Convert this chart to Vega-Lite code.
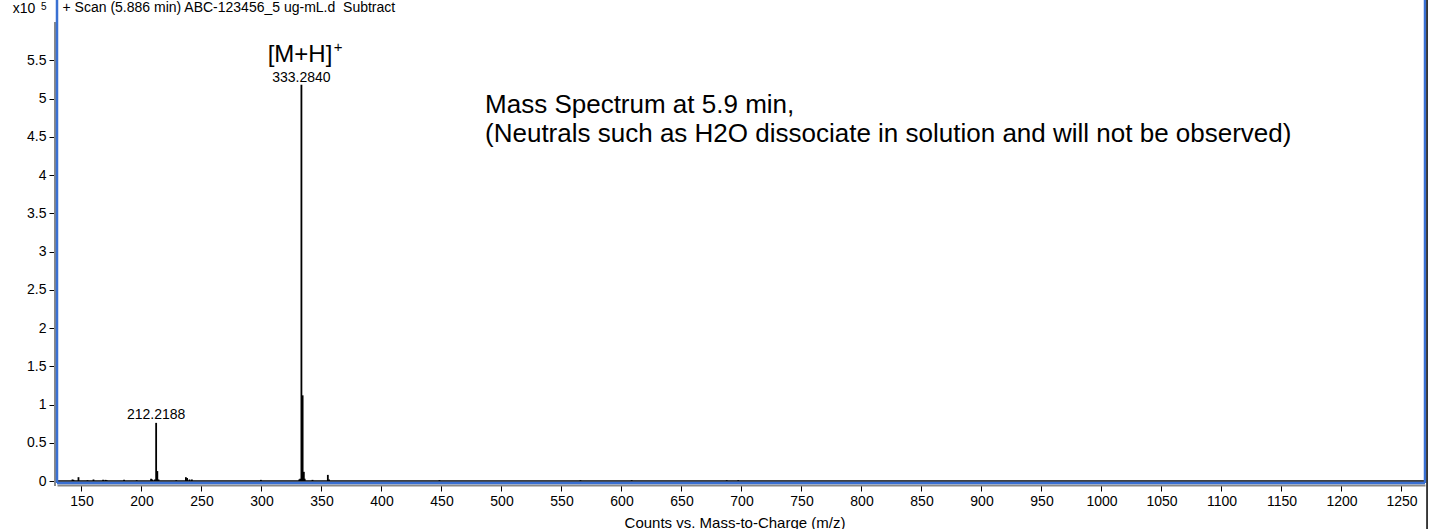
{
  "$schema": "https://vega.github.io/schema/vega-lite/v6.json",
  "width": 1368,
  "height": 483,
  "autosize": {"type": "none"},
  "padding": {"left": 57, "top": 0, "right": 9, "bottom": 46},
  "background": "white",
  "config": {"view": {"stroke": null}, "font": "Liberation Sans"},
  "datasets": {
    "peaks": [
      {"mz": 142.5, "intensity": 0.02},
      {"mz": 143.3, "intensity": 0.015},
      {"mz": 147.5, "intensity": 0.05},
      {"mz": 155.0, "intensity": 0.01},
      {"mz": 160.0, "intensity": 0.02},
      {"mz": 168.0, "intensity": 0.015},
      {"mz": 170.0, "intensity": 0.015},
      {"mz": 171.0, "intensity": 0.01},
      {"mz": 185.5, "intensity": 0.015},
      {"mz": 196.0, "intensity": 0.01},
      {"mz": 208.0, "intensity": 0.03},
      {"mz": 209.0, "intensity": 0.02},
      {"mz": 211.2, "intensity": 0.02},
      {"mz": 212.2188, "intensity": 0.76},
      {"mz": 213.2, "intensity": 0.13},
      {"mz": 214.2, "intensity": 0.02},
      {"mz": 229.0, "intensity": 0.01},
      {"mz": 237.0, "intensity": 0.05},
      {"mz": 238.0, "intensity": 0.04},
      {"mz": 240.0, "intensity": 0.02},
      {"mz": 242.0, "intensity": 0.02},
      {"mz": 299.5, "intensity": 0.015},
      {"mz": 331.5, "intensity": 0.02},
      {"mz": 332.3, "intensity": 0.03},
      {"mz": 333.284, "intensity": 5.18},
      {"mz": 334.29, "intensity": 1.12},
      {"mz": 335.3, "intensity": 0.12},
      {"mz": 336.0, "intensity": 0.03},
      {"mz": 342.5, "intensity": 0.015},
      {"mz": 355.3, "intensity": 0.08},
      {"mz": 356.3, "intensity": 0.02},
      {"mz": 448.3, "intensity": 0.01},
      {"mz": 565.8, "intensity": 0.01},
      {"mz": 608.5, "intensity": 0.01},
      {"mz": 687.7, "intensity": 0.01},
      {"mz": 697.3, "intensity": 0.01}
    ]
  },
  "layer": [
    {
      "data": {"name": "peaks"},
      "mark": {"type": "rule", "color": "black", "strokeWidth": 1.8},
      "encoding": {
        "x": {
          "field": "mz", "type": "quantitative",
          "scale": {"domain": [129.6, 1269.6], "nice": false, "zero": false},
          "axis": {
            "orient": "bottom", "offset": 2,
            "values": [150,200,250,300,350,400,450,500,550,600,650,700,750,800,850,900,950,1000,1050,1100,1150,1200,1250],
            "format": "d", "grid": false,
            "domainColor": "#888888", "domainWidth": 2,
            "tickColor": "black", "tickSize": 6, "tickWidth": 1,
            "labelFont": "Liberation Sans", "labelFontSize": 14, "labelColor": "black", "labelPadding": 3,
            "title": "Counts vs. Mass-to-Charge (m/z)",
            "titleFont": "Liberation Sans", "titleFontSize": 15, "titleFontWeight": "normal", "titleColor": "black",
            "titleX": 677.5, "titleY": 42, "titleBaseline": "alphabetic", "titleAnchor": "middle"
          }
        },
        "y": {
          "field": "intensity", "type": "quantitative",
          "scale": {"domain": [-0.026, 6.288], "nice": false, "zero": false},
          "axis": {
            "orient": "left", "offset": 2,
            "values": [0,0.5,1,1.5,2,2.5,3,3.5,4,4.5,5,5.5],
            "format": "~g", "grid": false, "domain": false,
            "tickColor": "black", "tickSize": 6, "tickWidth": 1,
            "labelFont": "Liberation Sans", "labelFontSize": 14, "labelColor": "black", "labelPadding": 3,
            "title": null
          }
        },
        "y2": {"datum": 0}
      }
    },
    {
      "data": {"values": [{}]},
      "mark": {"type": "rule", "color": "#888888", "strokeWidth": 2},
      "encoding": {"x": {"datum": 127.93}, "y": {"datum": -0.065}, "y2": {"datum": 6.0}}
    },
    {
      "data": {"values": [{}]},
      "mark": {"type": "rule", "color": "black", "strokeWidth": 1.5},
      "encoding": {"x": {"datum": 129.6}, "x2": {"datum": 1269.6}, "y": {"datum": 0}}
    },
    {
      "data": {"values": [{}]},
      "mark": {"type": "rule", "color": "#3a70d2", "strokeWidth": 2.5},
      "encoding": {"x": {"datum": 129.6}, "y": {"datum": -0.026}, "y2": {"datum": 6.5}}
    },
    {
      "data": {"values": [{}]},
      "mark": {"type": "rule", "color": "#3a70d2", "strokeWidth": 2.5},
      "encoding": {"x": {"datum": 1269.6}, "y": {"datum": -0.026}, "y2": {"datum": 6.5}}
    },
    {
      "data": {"values": [{}]},
      "mark": {"type": "rule", "color": "#3a70d2", "strokeWidth": 2.5},
      "encoding": {"x": {"datum": 129.6}, "x2": {"datum": 1269.6}, "y": {"datum": -0.026}}
    },
    {
      "data": {"values": [{}]},
      "mark": {"type": "rule", "color": "black", "strokeWidth": 1.5},
      "encoding": {"x": {"datum": 1271.3}, "y": {"datum": -0.7}, "y2": {"datum": 6.5}}
    },
    {
      "data": {"values": [{"label": "333.2840", "mz": 333.284, "y": 5.216}, {"label": "212.2188", "mz": 212.2188, "y": 0.81}]},
      "mark": {"type": "text", "font": "Liberation Sans", "fontSize": 14, "align": "center", "baseline": "alphabetic", "color": "black"},
      "encoding": {"x": {"field": "mz", "type": "quantitative"}, "y": {"field": "y", "type": "quantitative"}, "text": {"field": "label"}}
    },
    {
      "data": {"values": [{}]},
      "mark": {"type": "text", "font": "Liberation Sans", "fontSize": 24, "align": "center", "baseline": "alphabetic", "color": "black"},
      "encoding": {"x": {"datum": 332.1}, "y": {"datum": 5.477}, "text": {"value": "[M+H]"}}
    },
    {
      "data": {"values": [{}]},
      "mark": {"type": "text", "font": "Liberation Sans", "fontSize": 15, "align": "center", "baseline": "alphabetic", "color": "black"},
      "encoding": {"x": {"datum": 363.8}, "y": {"datum": 5.61}, "text": {"value": "+"}}
    },
    {
      "data": {"values": [{"line": "Mass Spectrum at 5.9 min,", "y": 4.81}, {"line": "(Neutrals such as H2O dissociate in solution and will not be observed)", "y": 4.431}]},
      "mark": {"type": "text", "font": "Liberation Sans", "fontSize": 26, "align": "left", "baseline": "alphabetic", "color": "black"},
      "encoding": {"x": {"datum": 486.3}, "y": {"field": "y", "type": "quantitative"}, "text": {"field": "line"}}
    },
    {
      "data": {"values": [{}]},
      "mark": {"type": "text", "font": "Liberation Sans", "fontSize": 14, "align": "left", "baseline": "alphabetic", "color": "black"},
      "encoding": {"x": {"datum": 134.2}, "y": {"datum": 6.131}, "text": {"value": "+ Scan (5.886 min) ABC-123456_5 ug-mL.d \u00a0Subtract"}}
    },
    {
      "data": {"values": [{}]},
      "mark": {"type": "text", "font": "Liberation Sans", "fontSize": 14, "align": "left", "baseline": "alphabetic", "color": "black"},
      "encoding": {"x": {"datum": 92.7}, "y": {"datum": 6.114}, "text": {"value": "x10"}}
    },
    {
      "data": {"values": [{}]},
      "mark": {"type": "text", "font": "Liberation Sans", "fontSize": 10, "align": "left", "baseline": "alphabetic", "color": "black"},
      "encoding": {"x": {"datum": 116.3}, "y": {"datum": 6.163}, "text": {"value": "5"}}
    }
  ]
}
